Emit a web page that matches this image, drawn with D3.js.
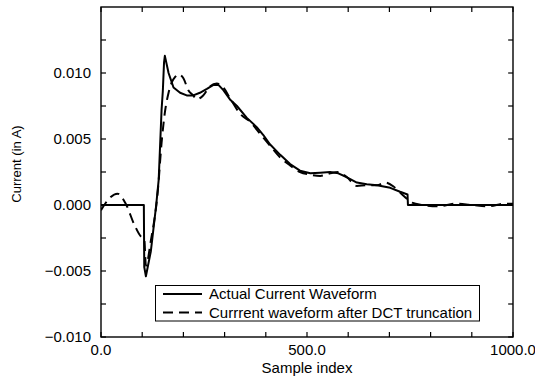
<!DOCTYPE html>
<html>
<head>
<meta charset="utf-8">
<script src="https://cdn.jsdelivr.net/npm/d3@7"></script>
<style>
  body { margin: 0; background: #fff; }
  text { font-family: "Liberation Sans", Arial, sans-serif; fill: #000; }
</style>
</head>
<body>
<div id="chart"></div>
<script>
// Actual current vs DCT truncated waveform

const width = 535;
const height = 379;
const margin = {top: 7, right: 22, bottom: 42, left: 101};

// sample index / value pairs
const actualIdx = [0, 104, 105, 109, 121, 134, 140, 147, 150, 153, 155, 164, 176, 192, 208, 224, 240, 257, 273, 285, 297, 313, 330, 354, 378, 394, 410, 435, 459, 483, 508, 532, 556, 576, 597, 621, 645, 670, 702, 726, 744, 745, 800, 850, 900, 950, 1000];
const actualVal = [0, 0, -0.0047, -0.0054, -0.0035, 0.0000, 0.0019, 0.0072, 0.0086, 0.0108, 0.0113, 0.0100, 0.0089, 0.0085, 0.0083, 0.0083, 0.0085, 0.0088, 0.0091, 0.0091, 0.0087, 0.0080, 0.0075, 0.0066, 0.0059, 0.0053, 0.0046, 0.0038, 0.0031, 0.0026, 0.0024, 0.00245, 0.0025, 0.0024, 0.0021, 0.0017, 0.00157, 0.0015, 0.0013, 0.0010, 0.0008, 0.0000, 0, 0, 0, 0, 0];

const dctIdx = [0, 20, 40, 60, 81, 97, 105, 109, 121, 138, 147, 155, 164, 172, 180, 188, 200, 212, 224, 232, 248, 265, 281, 297, 313, 338, 362, 386, 410, 435, 459, 483, 508, 532, 556, 576, 597, 621, 645, 670, 690, 710, 726, 744, 755, 780, 820, 860, 900, 940, 980, 1000];
const dctVal = [-0.0004, 0.0005, 0.00086, 0.0001, -0.0015, -0.0024, -0.0026, -0.0046, -0.0027, 0.0011, 0.0047, 0.0070, 0.0085, 0.0093, 0.0097, 0.0099, 0.0096, 0.0087, 0.0083, 0.0080, 0.0083, 0.0090, 0.0092, 0.0089, 0.0081, 0.0069, 0.0063, 0.0054, 0.0045, 0.0036, 0.0030, 0.0025, 0.0023, 0.0022, 0.0024, 0.0025, 0.0021, 0.00144, 0.0015, 0.0015, 0.0017, 0.0014, 0.00094, 0.00043, 0.00018, 0.0000, -0.0001, 0.0001, 0.0000, -0.0001, 0.0001, 0.0001];

const xMajor = [0, 500, 1000];
const xMinor = [100, 200, 300, 400, 600, 700, 800, 900];
const yMajor = [-0.010, -0.005, 0.000, 0.005, 0.010];
const yMinor = [-0.0075, -0.0025, 0.0025, 0.0075, 0.0125];

const seriesNames = ["Actual Current Waveform", "Currrent waveform after DCT truncation"];

const actual = actualIdx.map((d, i) => ({x: d, y: actualVal[i]}));
const dct = dctIdx.map((d, i) => ({x: d, y: dctVal[i]}));

const svg = d3.select("#chart")
  .append("svg")
  .attr("width", width)
  .attr("height", height);

/////////////// Scales ///////////////
const x = d3.scaleLinear()
  .domain([0, 1000])
  .range([margin.left, width - margin.right]);

const y = d3.scaleLinear()
  .domain([-0.010, 0.0150])
  .range([height - margin.bottom, margin.top]);

const fmtY = v => d3.format(".3f")(v).replace("-", "\u2212");
const fmtX = d3.format(".1f");

/////////////// Lines ///////////////
svg.append("clipPath")
  .attr("id", "clip")
  .append("rect")
  .attr("x", x(0)).attr("y", y(0.015))
  .attr("width", x(1000) - x(0)).attr("height", y(-0.010) - y(0.015));

const line = d3.line()
  .x(d => x(d.x))
  .y(d => y(d.y));

const smooth = d3.line()
  .x(d => x(d.x))
  .y(d => y(d.y))
  .curve(d3.curveMonotoneX);

const plot = svg.append("g").attr("clip-path", "url(#clip)");

plot.append("path")
  .datum(actual)
  .attr("fill", "none")
  .attr("stroke", "#000")
  .attr("stroke-width", 2)
  .attr("stroke-linejoin", "round")
  .attr("d", line);

plot.append("path")
  .datum(dct)
  .attr("fill", "none")
  .attr("stroke", "#000")
  .attr("stroke-width", 2)
  .attr("stroke-dasharray", "10,6")
  .attr("d", smooth);

/////////////// Frame & ticks ///////////////
const x0 = x(0), x1 = x(1000), y0 = y(-0.010), y1 = y(0.015);

svg.append("rect")
  .attr("x", x0).attr("y", y1)
  .attr("width", x1 - x0).attr("height", y0 - y1)
  .attr("fill", "none")
  .attr("stroke", "#000")
  .attr("stroke-width", 1.4);

const tickLen = 5;
const ticks = svg.append("g").attr("stroke", "#000").attr("stroke-width", 1.2);

xMajor.concat(xMinor).forEach(v => {
  ticks.append("line").attr("x1", x(v)).attr("x2", x(v)).attr("y1", y0).attr("y2", y0 - tickLen);
  ticks.append("line").attr("x1", x(v)).attr("x2", x(v)).attr("y1", y1).attr("y2", y1 + tickLen);
});
yMajor.concat(yMinor).forEach(v => {
  ticks.append("line").attr("x1", x0).attr("x2", x0 + tickLen).attr("y1", y(v)).attr("y2", y(v));
  ticks.append("line").attr("x1", x1).attr("x2", x1 - tickLen).attr("y1", y(v)).attr("y2", y(v));
});

svg.selectAll(".xlabel")
  .data(xMajor)
  .join("text")
    .attr("class", "xlabel")
    .attr("x", d => x(d))
    .attr("y", y0 + 18)
    .attr("text-anchor", "middle")
    .attr("font-size", 15)
    .text(d => fmtX(d));

svg.selectAll(".ylabel")
  .data(yMajor)
  .join("text")
    .attr("class", "ylabel")
    .attr("x", x0 - 10)
    .attr("y", d => y(d) + 5)
    .attr("text-anchor", "end")
    .attr("font-size", 15)
    .text(d => fmtY(d));

svg.append("text")
  .attr("x", (x0 + x1) / 2)
  .attr("y", 373)
  .attr("text-anchor", "middle")
  .attr("font-size", 15)
  .text("Sample index");

svg.append("text")
  .attr("transform", "translate(21, 164) rotate(-90)")
  .attr("text-anchor", "middle")
  .attr("font-size", 13)
  .text("Current (in A)");

/////////////// Legend ///////////////
const legend = svg.append("g");
legend.append("rect")
  .attr("x", 155.5).attr("y", 285.5)
  .attr("width", 324).attr("height", 35.5)
  .attr("fill", "#fff")
  .attr("stroke", "#000")
  .attr("stroke-width", 1);

seriesNames.forEach((name, i) => {
  const ly = 294 + i * 18.5;
  legend.append("line")
    .attr("x1", 163).attr("x2", 202)
    .attr("y1", ly).attr("y2", ly)
    .attr("stroke", "#000")
    .attr("stroke-width", 2)
    .attr("stroke-dasharray", i === 0 ? null : "10,6");
  legend.append("text")
    .attr("x", 209)
    .attr("y", ly + 5)
    .attr("font-size", 15)
    .text(name);
});
</script>
</body>
</html>
